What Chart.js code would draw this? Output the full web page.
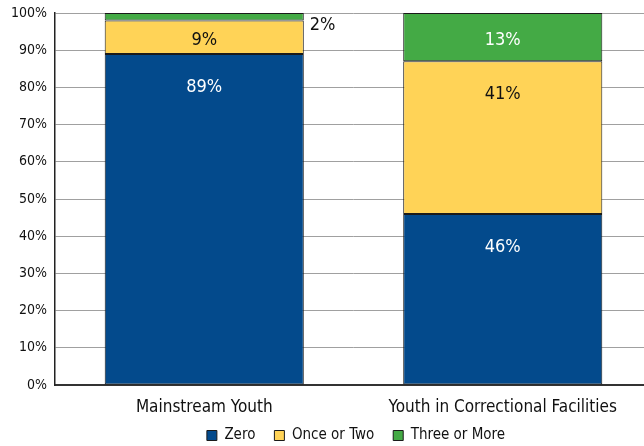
<!DOCTYPE html>
<html>
<head>
<meta charset="utf-8">
<script src="https://cdn.jsdelivr.net/npm/chart.js@4"></script>
<style>
  html, body { margin: 0; padding: 0; background: #fff; overflow: hidden; }
  #wrap { width: 644px; height: 446px; overflow: hidden; }
</style>
</head>
<body>
<div id="wrap"><canvas id="chart-youth" width="652" height="446"></canvas></div>
<script>
const categories = ['Mainstream Youth', 'Youth in Correctional Facilities'];
const zeroValues = [89, 46];
const onceTwoValues = [9, 41];
const threeMoreValues = [2, 13];
const yTicks = [0, 10, 20, 30, 40, 50, 60, 70, 80, 90, 100];

const FONT = '"Liberation Sans Narrow", "DejaVu Sans Condensed", "Noto Sans", sans-serif';

// labels inside the segments (or beside them when too thin)
const segmentLabels = {
  id: 'segmentLabels',
  afterDatasetsDraw(chart) {
    const ctx = chart.ctx;
    ctx.save();
    ctx.font = '18px ' + FONT;
    chart.data.datasets.forEach((ds, di) => {
      const meta = chart.getDatasetMeta(di);
      meta.data.forEach((bar, i) => {
        const p = bar.getProps(['x', 'y', 'base', 'width'], true);
        const h = p.base - p.y;
        const txt = ds.data[i] + '%';
        ctx.textBaseline = 'middle';
        if (h < 12) {
          ctx.fillStyle = '#111';
          ctx.textAlign = 'left';
          ctx.fillText(txt, p.x + p.width / 2 + 6, p.base + 5);
        } else {
          ctx.fillStyle = ds.labelColor;
          ctx.textAlign = 'center';
          ctx.fillText(txt, p.x, Math.min(p.y + h / 2 + 3, p.y + 33));
        }
      });
    });
    ctx.restore();
  }
};

// legend: smaller reserved height, centred under the plot
const legendTweak = {
  id: 'legendTweak',
  beforeLayout(chart) {
    const l = chart.legend;
    if (l && !l._fitWrapped) {
      const fit = l.fit.bind(l);
      l.fit = function () { fit(); this.height = 29; };
      l._fitWrapped = true;
    }
  },
  afterLayout(chart) {
    const l = chart.legend;
    l.left += 30;
    l.right += 30;
    l.top -= 8;
    l.height += 8;
  }
};

new Chart(document.getElementById('chart-youth'), {
  type: 'bar',
  data: {
    labels: categories,
    datasets: [
      { label: 'Zero', data: zeroValues, backgroundColor: '#034A8C', labelColor: '#fff' },
      { label: 'Once or Two', data: onceTwoValues, backgroundColor: '#FFD357', labelColor: '#111' },
      { label: 'Three or More', data: threeMoreValues, backgroundColor: '#44AA45', labelColor: '#fff' }
    ]
  },
  plugins: [segmentLabels, legendTweak],
  options: {
    responsive: false,
    animation: false,
    devicePixelRatio: 1,
    layout: { padding: 0 },
    datasets: {
      bar: {
        borderColor: '#1a1a1a',
        borderWidth: 1,
        borderSkipped: false,
        barPercentage: 0.667,
        categoryPercentage: 1
      }
    },
    scales: {
      x: {
        stacked: true,
        grid: { display: false, drawTicks: false },
        border: { display: true, color: '#333', width: 2 },
        ticks: { color: '#111', font: { family: FONT, size: 17 }, padding: 12 },
        afterFit(s) { s.height = 32; }
      },
      y: {
        stacked: true,
        min: 0,
        max: 100,
        afterBuildTicks(s) { s.ticks = yTicks.map(v => ({ value: v })); },
        grid: { color: '#A0A0A0', lineWidth: 1, drawTicks: false },
        border: { display: true, color: '#222', width: 1.5 },
        ticks: {
          color: '#111',
          font: { family: FONT, size: 14 },
          padding: 8,
          callback: v => v + '%'
        },
        afterFit(s) {
          s.width = 55;
          s.paddingTop = 13;
          s.paddingBottom = 0;
        }
      }
    },
    plugins: {
      legend: {
        position: 'bottom',
        labels: {
          boxWidth: 10,
          boxHeight: 10,
          padding: 19,
          color: '#111',
          font: { family: FONT, size: 15 }
        }
      },
      tooltip: { enabled: false }
    }
  }
});
</script>
</body>
</html>
